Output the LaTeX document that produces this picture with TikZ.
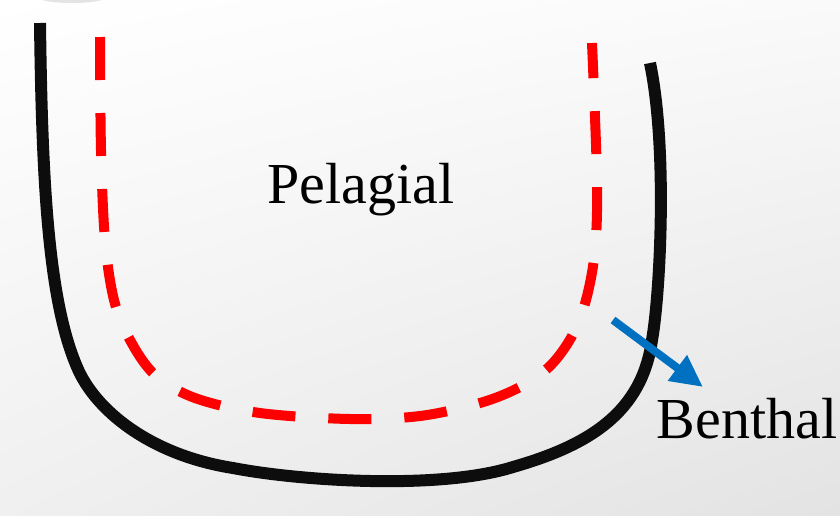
\documentclass[tikz,border=0pt]{standalone}
\usepackage{fontspec}
\setmainfont{Liberation Serif}
\usetikzlibrary{arrows.meta,shadings}
\definecolor{arrowblue}{HTML}{0070C0}
\tikzset{
  basin/.style={line width=12pt, black!95, line cap=butt, line join=round},
  zone/.style={line width=10pt, red, dash pattern=on 43pt off 33pt, line cap=butt},
  pointer/.style={line width=8pt, arrowblue, -{Triangle[length=32pt,width=30pt]}},
  lbl/.style={font=\fontsize{58}{62}\selectfont, anchor=base, inner sep=0pt}
}
\begin{document}
\begin{tikzpicture}[x=1pt,y=-1pt]
\useasboundingbox (0,0) rectangle (840,515);
\shade[upper left=white, upper right=gray!4, lower left=gray!12, lower right=gray!22] (0,0) rectangle (840,515);
\fill[gray!35, opacity=0.6] (72,-2) ellipse [x radius=32, y radius=5];
% black basin outline
\draw[basin] (40,23) .. controls (42,180) and (48,300) .. (77,367)
  .. controls (95,410) and (150,455) .. (233,468)
  .. controls (300,481) and (440,490) .. (513,467)
  .. controls (590,445) and (642,412) .. (652,340)
  .. controls (660,295) and (668,150) .. (650,63);
% red dashed zone
\draw[zone] plot[smooth, tension=0.55] coordinates {
  (100,37) (101,150) (105,240) (114,300) (130,340) (155,375) (195,398)
  (260,413) (350,419) (420,416) (480,403) (520,387) (550,366) (572,336)
  (586,300) (595,250) (597,180) (592,43)};
% labels
\node[lbl] (pel) at (361,203) {Pelagial};
\node[lbl] (ben) at (747,438) {Benthal};
% arrow
\coordinate (a1) at (613,320);
\coordinate (a2) at (703,387);
\draw[pointer] (a1) -- (a2);
\end{tikzpicture}
\end{document}
